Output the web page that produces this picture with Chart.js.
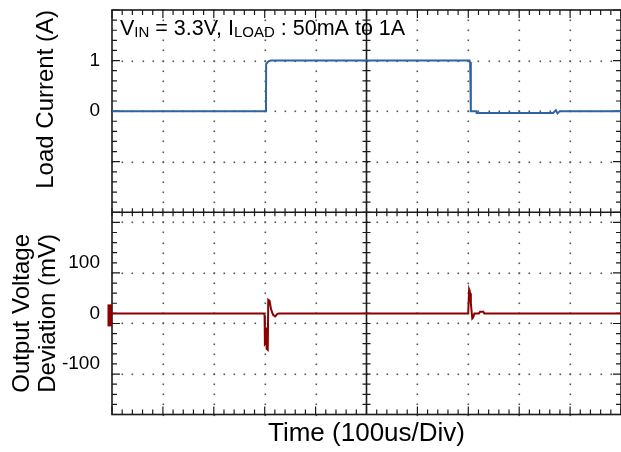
<!DOCTYPE html>
<html>
<head>
<meta charset="utf-8">
<script src="https://cdn.jsdelivr.net/npm/chart.js@4.4.1/dist/chart.umd.min.js"></script>
<style>
  html, body { margin: 0; padding: 0; background: #ffffff; }
  #wrap { width: 621px; height: 452px; position: relative; }
</style>
</head>
<body>
<div id="wrap"><canvas id="c"></canvas></div>
<script>
// ---- Data read from the scope capture (time in us) ----
const currentTime  = [0, 302.5, 302.8, 305, 308, 312.5, 702.4, 703.6, 704.8, 705.2, 716, 716.4, 866.8, 872, 875.3, 879.8, 1000];
const currentValue = [0, 0, 0.93, 0.96, 0.99, 1.0, 1.0, 0.97, 0.9, 0, 0, -0.035, -0.035, 0.02, -0.045, 0, 0];

const voltageTime  = [0, 298.2, 299.8, 300.4, 301.6, 302.6, 303.8, 306, 307, 309.5, 312.5, 316.5, 320.5, 325, 328,
                      699.8, 701.2, 701.6, 702.6, 703.6, 705, 707.8, 709.5, 712, 721, 723, 729.5, 731.5, 1000];
const voltageValue = [0, 0, -4, -60, -58, -28, -70, -72, 27, 25, 8, -3, -6, -1, 0,
                      0, 0, 47, 44, 40, 20, -10, -8, 0, 0, 3, 3, 0, 0];

// ---- Axis ranges and tick labels ----
const timeRange = [0, 1000];          // 10 divisions of 100us
const timeDiv = 100;
const currentRange = [-2, 2];         // A
const currentDiv = 1;
const currentTickLabels = [0, 1];
const voltageRange = [-200, 200];     // mV
const voltageDiv = 100;
const voltageTickLabels = [-100, 0, 100];

const FONT = '"Liberation Sans", Arial, Helvetica, sans-serif';
Chart.defaults.font.family = FONT;
Chart.defaults.color = '#000';

function steps(min, max, step) {
  const n = Math.round((max - min) / step);
  const out = [];
  for (let i = 0; i <= n; i++) out.push(min + i * step);
  return out;
}

function noEdgePadding(s, width) {
  s.width = width;
  s.paddingTop = 0;
  s.paddingBottom = 0;
}

const scopePlugin = {
  id: 'scopeDecor',
  beforeDatasetsDraw(chart) {
    const { ctx, chartArea: a, scales } = chart;
    const sx = scales.x, yc = scales.yCur, yv = scales.yVolt;
    const xMinor = steps(timeRange[0], timeRange[1], timeDiv / 5).map(v => sx.getPixelForValue(v));
    const ycMinor = steps(currentRange[0], currentRange[1], currentDiv / 5).map(v => yc.getPixelForValue(v));
    const yvMinor = steps(voltageRange[0], voltageRange[1], voltageDiv / 5).map(v => yv.getPixelForValue(v));
    const yMinor = ycMinor.concat(yvMinor.slice(0, -1));
    const xMid = sx.getPixelForValue((timeRange[0] + timeRange[1]) / 2);
    const yMid = yc.bottom;

    ctx.save();
    // dotted graticule
    ctx.fillStyle = '#555';
    xMinor.forEach((px, i) => {
      if (i % 5 !== 0 || i === 0 || i === xMinor.length - 1 || Math.abs(px - xMid) < 1) return;
      yMinor.forEach(py => ctx.fillRect(Math.round(px) - 0.5, Math.round(py) - 0.5, 1.6, 1.6));
    });
    yMinor.forEach((py, i) => {
      if (i % 5 !== 0 || Math.abs(py - a.top) < 1 || Math.abs(py - a.bottom) < 1 || Math.abs(py - yMid) < 1) return;
      xMinor.forEach(px => ctx.fillRect(Math.round(px) - 0.5, Math.round(py) - 0.5, 1.6, 1.6));
    });

    // frame and centre cross
    ctx.strokeStyle = '#1a1a1a';
    ctx.lineWidth = 1.6;
    ctx.strokeRect(a.left, a.top, a.right - a.left, a.bottom - a.top);
    ctx.beginPath();
    ctx.moveTo(xMid, a.top); ctx.lineTo(xMid, a.bottom);
    ctx.moveTo(a.left, yMid); ctx.lineTo(a.right, yMid);
    ctx.stroke();

    // ticks
    ctx.lineWidth = 1.2;
    ctx.beginPath();
    xMinor.forEach((px, i) => {
      const len = i % 5 === 0 ? 8 : 5;
      ctx.moveTo(px, a.top); ctx.lineTo(px, a.top + len);
      ctx.moveTo(px, a.bottom); ctx.lineTo(px, a.bottom - len);
      ctx.moveTo(px, yMid - 4); ctx.lineTo(px, yMid + 4);
    });
    yMinor.forEach((py, i) => {
      const len = i % 5 === 0 ? 8 : 5;
      ctx.moveTo(a.left, py); ctx.lineTo(a.left + len, py);
      ctx.moveTo(a.right, py); ctx.lineTo(a.right - len, py);
      ctx.moveTo(xMid - 4, py); ctx.lineTo(xMid + 4, py);
    });
    ctx.stroke();

    // channel marker at the voltage trace zero level
    const z = yv.getPixelForValue(0);
    ctx.fillStyle = '#8b0000';
    ctx.fillRect(a.left - 4.5, z - 9, 4.5, 22);

    // condition annotation
    const main = '21.5px ' + FONT, sub = '15px ' + FONT;
    const parts = [['V', main, 0], ['IN', sub, 2], [' = 3.3V, I', main, 0], ['LOAD', sub, 2], [' : 50mA to 1A', main, 0]];
    let tx = a.left + 8;
    const base = a.top + 25;
    ctx.fillStyle = '#000';
    ctx.textBaseline = 'alphabetic';
    ctx.textAlign = 'left';
    parts.forEach(([t, f, dy]) => {
      ctx.font = f;
      ctx.fillText(t, tx, base + dy);
      tx += ctx.measureText(t).width;
    });
    ctx.restore();
  }
};

const toPoints = (xs, ys) => xs.map((x, i) => ({ x, y: ys[i] }));

new Chart(document.getElementById('c'), {
  type: 'line',
  data: {
    datasets: [
      {
        label: 'Load Current',
        data: toPoints(currentTime, currentValue),
        yAxisID: 'yCur',
        borderColor: '#2f63a6',
        borderWidth: 2,
        pointRadius: 0,
        tension: 0
      },
      {
        label: 'Output Voltage Deviation',
        data: toPoints(voltageTime, voltageValue),
        yAxisID: 'yVolt',
        borderColor: '#8b0000',
        borderWidth: 2,
        pointRadius: 0,
        tension: 0
      }
    ]
  },
  options: {
    responsive: true,
    maintainAspectRatio: false,
    devicePixelRatio: 1,
    animation: false,
    layout: { padding: { top: 10, right: -5, bottom: 0, left: 0 } },
    plugins: { legend: { display: false }, tooltip: { enabled: false } },
    scales: {
      x: {
        type: 'linear',
        min: timeRange[0],
        max: timeRange[1],
        grid: { display: false },
        border: { display: false },
        ticks: { display: false },
        title: {
          display: true,
          text: 'Time (100us/Div)',
          font: { size: 26, family: FONT },
          color: '#000',
          padding: { top: 0, bottom: 3 }
        },
        afterFit(s) { s.height = 37.5; s.paddingLeft = 0; s.paddingRight = 0; }
      },
      yVolt: {
        type: 'linear',
        position: 'left',
        stack: 'scope',
        stackWeight: 1,
        min: voltageRange[0],
        max: voltageRange[1],
        grid: { display: false, drawTicks: false },
        border: { display: false },
        afterBuildTicks(s) { s.ticks = voltageTickLabels.map(v => ({ value: v })); },
        ticks: { padding: 12, font: { size: 19, family: FONT }, color: '#000', callback: v => String(v) },
        title: {
          display: true,
          text: ['Output Voltage', 'Deviation (mV)'],
          font: { size: 24, family: FONT, lineHeight: 1.083 },
          color: '#000',
          padding: { top: 9.5, bottom: 0 }
        },
        afterFit(s) { noEdgePadding(s, 112); }
      },
      yCur: {
        type: 'linear',
        position: 'left',
        stack: 'scope',
        stackWeight: 1,
        min: currentRange[0],
        max: currentRange[1],
        grid: { display: false, drawTicks: false },
        border: { display: false },
        afterBuildTicks(s) { s.ticks = currentTickLabels.map(v => ({ value: v })); },
        ticks: { padding: 12, font: { size: 19, family: FONT }, color: '#000', callback: v => String(v) },
        title: {
          display: true,
          text: 'Load Current (A)',
          align: 'end',
          font: { size: 24, family: FONT, lineHeight: 1.2 },
          color: '#000',
          padding: { top: 31.6, bottom: 0 }
        },
        afterFit(s) { noEdgePadding(s, 112); }
      }
    }
  },
  plugins: [scopePlugin]
});
</script>
</body>
</html>
